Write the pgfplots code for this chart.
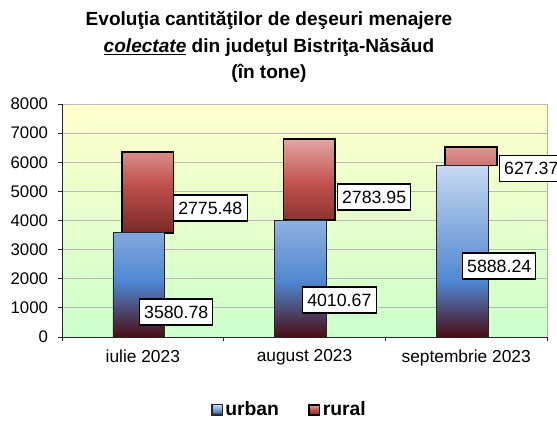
\documentclass[border=0pt]{standalone}
\usepackage{pgfplots}
\pgfplotsset{compat=1.18}
\usepackage{fontspec}
\setmainfont{Liberation Sans}
\definecolor{utop}{HTML}{C6D9F1}
\definecolor{umid}{HTML}{4F86D0}
\definecolor{ubot}{HTML}{4A0C14}
\definecolor{rtop}{HTML}{E3A5A3}
\definecolor{rmid}{HTML}{C0504D}
\definecolor{rbot}{HTML}{7A2A28}
\definecolor{bgtop}{HTML}{FFFFCC}
\definecolor{bgbot}{HTML}{CCFFCC}
\pgfdeclareverticalshading{urbanshade}{100bp}{color(0bp)=(ubot); color(25bp)=(ubot); color(41bp)=(umid); color(75bp)=(utop); color(100bp)=(utop)}
\pgfdeclareverticalshading{ruralshade}{100bp}{color(0bp)=(rbot); color(25bp)=(rbot); color(51bp)=(rmid); color(75bp)=(rtop); color(100bp)=(rtop)}
\begin{document}
\begin{tikzpicture}
\useasboundingbox (-46.5pt,-63pt) rectangle (371.25pt,252.75pt);
\begin{axis}[
  scale only axis, width=363.75pt, height=174.75pt,
  xmin=-0.5, xmax=2.5, ymin=0, ymax=8000,
  ybar stacked,
  bar width=0.32,
  clip=false,
  axis background/.style={top color=bgtop, bottom color=bgbot, draw=gray!60},
  axis x line*=bottom, axis y line*=left,
  axis line style={black!85, line width=0.6pt},
  tick align=outside,
  major tick length=3pt,
  tick style={black!85, line width=0.6pt},
  ytick={0,1000,...,8000},
  ymajorgrids,
  grid style={gray!55, line width=0.6pt},
  xtick={-0.5,0.5,1.5,2.5},
  xticklabels={},
  extra x ticks={0,1,2},
  extra x tick labels={iulie 2023, august 2023, septembrie 2023},
  extra x tick style={major tick length=0pt, grid=none},
  /pgf/number format/1000 sep={},
  /pgf/number format/assume math mode=true,
  yticklabel style={font=\fontsize{12.6}{14}\selectfont, xshift=-4pt},
  xticklabel style={font=\fontsize{13}{15}\selectfont, yshift=-6pt},
  legend style={at={(0.47,-0.313)}, anchor=center, draw=none, fill=none,
    legend columns=2, font=\bfseries\fontsize{14.5}{16}\selectfont,
    /tikz/every even column/.append style={column sep=20pt}},
]
\addplot[bar shift=-0.025, draw=black!85, line width=0.6pt, shade, shading=urbanshade,
  legend image code/.code={\draw[draw=black!85, line width=0.8pt, shade, shading=urbanshade] (0pt,-3.8pt) rectangle (7.6pt,3.8pt);}]
  coordinates {(0,3580.78) (1,4010.67) (2,5888.24)};
\addplot[bar shift=0.03, draw=black, line width=1.3pt, shade, shading=ruralshade,
  legend image code/.code={\draw[draw=black, line width=1.2pt, shade, shading=ruralshade] (0pt,-3.8pt) rectangle (7.6pt,3.8pt);}]
  coordinates {(0,2775.48) (1,2783.95) (2,627.37)};
\legend{urban, rural}
\coordinate (u1) at (axis cs:-0.024,858);
\coordinate (u2) at (axis cs:0.985,1270);
\coordinate (u3) at (axis cs:1.974,2438);
\coordinate (r1) at (axis cs:0.187,4430);
\coordinate (r2) at (axis cs:1.20,4807);
\coordinate (r3) at (axis cs:2.203,5785);
\end{axis}
\tikzset{lbl/.style={draw=black, line width=0.8pt, fill=white, anchor=west, inner xsep=3.5pt, minimum height=19.5pt, font=\fontsize{13.3}{15}\selectfont}}
\node[lbl] at (u1) {3580.78};
\node[lbl] at (u2) {4010.67};
\node[lbl] at (u3) {5888.24};
\node[lbl] at (r1) {2775.48};
\node[lbl] at (r2) {2783.95};
\node[lbl] at (r3) {627.37};
\node[align=center, font=\bfseries\fontsize{14.3}{20}\selectfont] at (155.25pt,217.5pt)
  {Evoluţia cantităţilor de deşeuri menajere\\ \underline{\textit{colectate}} din judeţul Bistriţa-Năsăud\\ (în tone)};
\end{tikzpicture}
\end{document}
